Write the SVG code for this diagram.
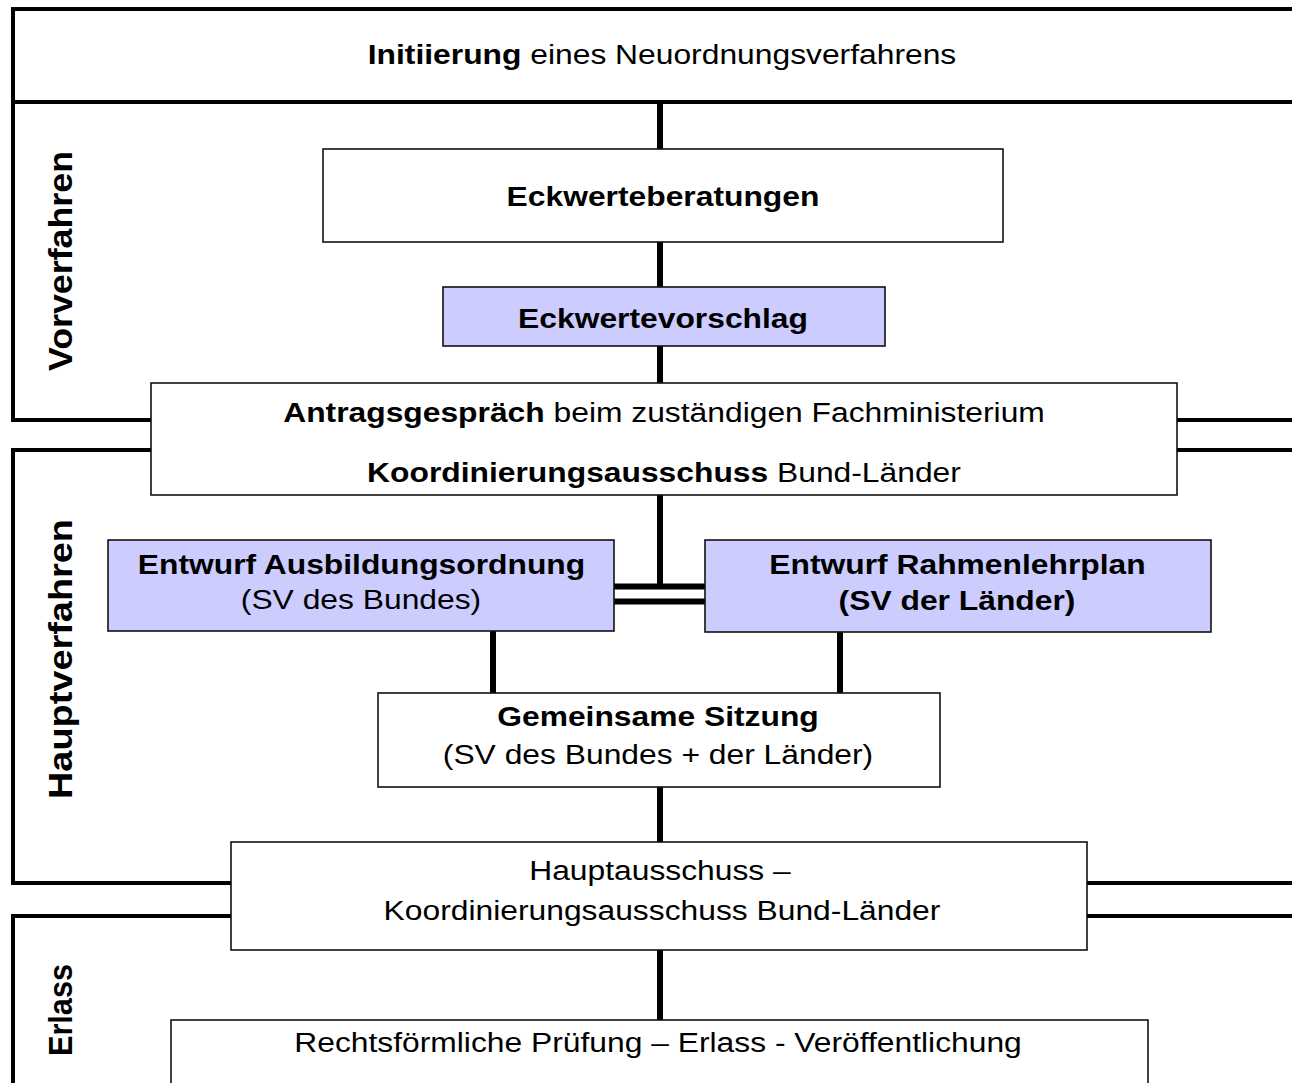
<svg xmlns="http://www.w3.org/2000/svg" width="1292" height="1083" viewBox="0 0 1292 1083">
<style>
.frame{fill:none;stroke:#000;stroke-width:4}
.con{fill:none;stroke:#000;stroke-width:6}
.box{fill:#fff;stroke:#111;stroke-width:1.6}
.blue{fill:#ccccff;stroke:#111;stroke-width:1.6}
text{font-family:"Liberation Sans",Arial,sans-serif;font-size:28px;fill:#000;text-anchor:middle}
.b{font-weight:bold}
.lab{font-weight:bold;font-size:34px}
</style>
<rect width="1292" height="1083" fill="#fff"/>
<g id="frames">
<path class="frame" d="M1292 9 H13 V420 H151"/>
<path class="frame" d="M13 102 H1292"/>
<path class="frame" d="M151 450 H13 V883 H231"/>
<path class="frame" d="M231 916 H13 V1083"/>
<path class="frame" d="M1177 420 H1292 M1177 450 H1292"/>
<path class="frame" d="M1087 883 H1292 M1087 916 H1292"/>
</g>
<g id="connectors">
<path class="con" d="M660 102 V149 M660 242 V287 M660 346 V383 M660 495 V586"/>
<path class="con" d="M614 586.5 H705 M614 601.5 H705"/>
<path class="con" d="M493 631 V693 M840 632 V693 M660 787 V842 M660 950 V1020"/>
</g>
<g id="initiierung">
<text transform="translate(662,64) scale(1.136,1)"><tspan class="b">Initiierung</tspan> eines Neuordnungsverfahrens</text>
</g>
<g id="eckwerteberatungen">
<rect class="box" x="323" y="149" width="680" height="93"/>
<text class="b" transform="translate(663,206) scale(1.136,1)">Eckwerteberatungen</text>
</g>
<g id="eckwertevorschlag">
<rect class="blue" x="443" y="287" width="442" height="59"/>
<text class="b" transform="translate(663,328) scale(1.136,1)">Eckwertevorschlag</text>
</g>
<g id="antragsgespraech">
<rect class="box" x="151" y="383" width="1026" height="112"/>
<text transform="translate(664,422) scale(1.136,1)"><tspan class="b">Antragsgespräch</tspan> beim zuständigen Fachministerium</text>
<text transform="translate(664,482) scale(1.136,1)"><tspan class="b">Koordinierungsausschuss</tspan> Bund-Länder</text>
</g>
<g id="entwurf-ausbildungsordnung">
<rect class="blue" x="108" y="540" width="506" height="91"/>
<text class="b" transform="translate(361.5,574) scale(1.136,1)">Entwurf Ausbildungsordnung</text>
<text transform="translate(361,609) scale(1.136,1)">(SV des Bundes)</text>
</g>
<g id="entwurf-rahmenlehrplan">
<rect class="blue" x="705" y="540" width="506" height="92"/>
<text class="b" transform="translate(957.5,574) scale(1.136,1)">Entwurf Rahmenlehrplan</text>
<text class="b" transform="translate(957,610) scale(1.136,1)">(SV der Länder)</text>
</g>
<g id="gemeinsame-sitzung">
<rect class="box" x="378" y="693" width="562" height="94"/>
<text class="b" transform="translate(658,726) scale(1.136,1)">Gemeinsame Sitzung</text>
<text transform="translate(658,764) scale(1.136,1)">(SV des Bundes + der Länder)</text>
</g>
<g id="hauptausschuss">
<rect class="box" x="231" y="842" width="856" height="108"/>
<text transform="translate(660,880) scale(1.136,1)">Hauptausschuss –</text>
<text transform="translate(662,920) scale(1.136,1)">Koordinierungsausschuss Bund-Länder</text>
</g>
<g id="rechtsfoermliche-pruefung">
<rect class="box" x="171" y="1020" width="977" height="70"/>
<text transform="translate(658,1052) scale(1.136,1)">Rechtsförmliche Prüfung – Erlass - Veröffentlichung</text>
</g>
<g id="labels">
<text class="lab" transform="translate(72,261) rotate(-90)" textLength="220" lengthAdjust="spacingAndGlyphs">Vorverfahren</text>
<text class="lab" transform="translate(72,659) rotate(-90)" textLength="280" lengthAdjust="spacingAndGlyphs">Hauptverfahren</text>
<text class="lab" transform="translate(72,1010) rotate(-90)" textLength="92" lengthAdjust="spacingAndGlyphs">Erlass</text>
</g>
</svg>
